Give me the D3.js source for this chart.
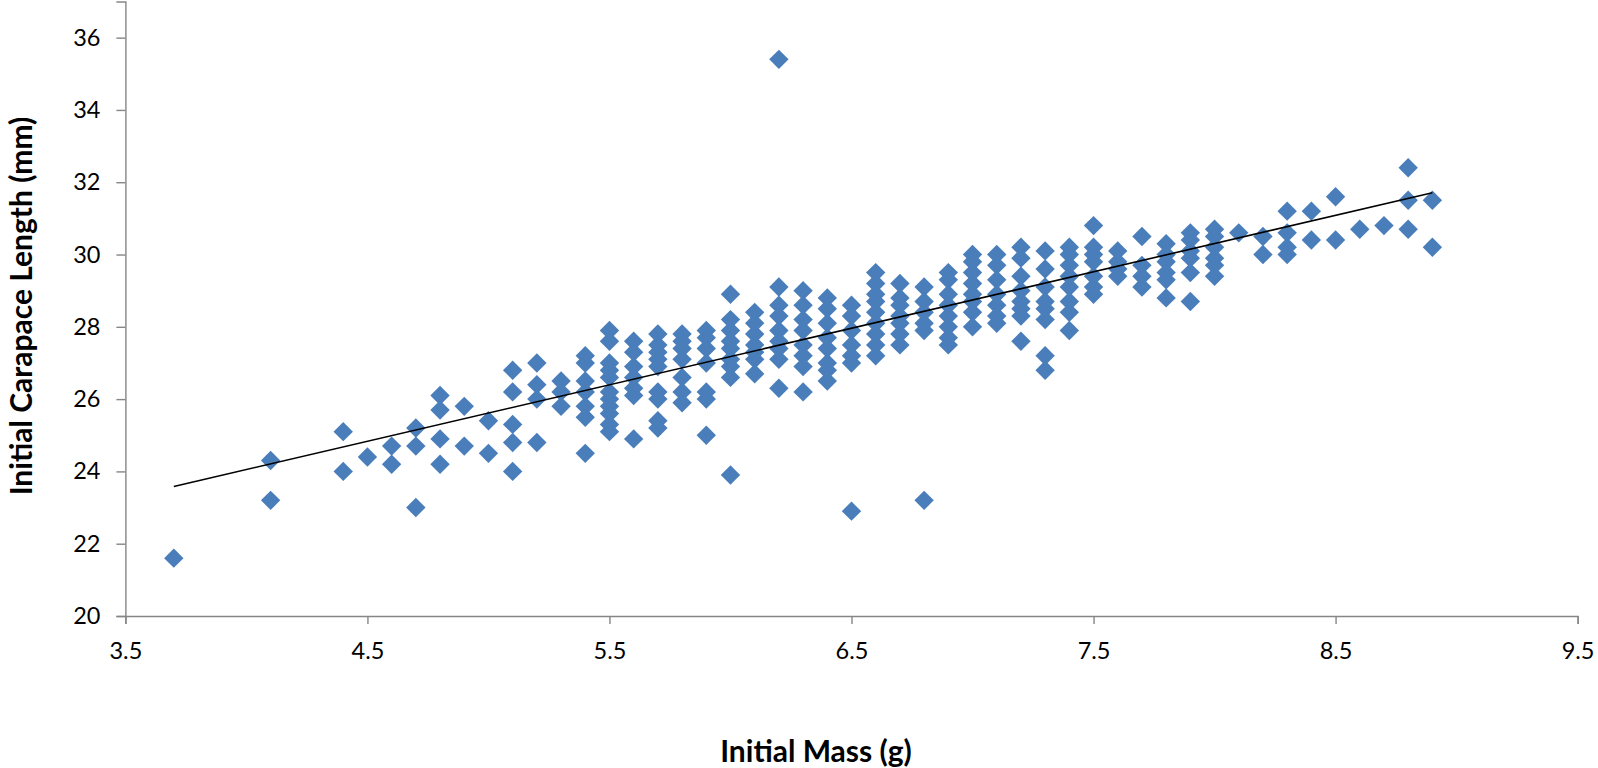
<!DOCTYPE html>
<html>
<head>
<meta charset="utf-8">
<script src="https://cdn.jsdelivr.net/npm/d3@7"></script>
<style>
  html, body { margin: 0; padding: 0; background: #fff; }
  svg { display: block; }
</style>
</head>
<body>
<svg id="chart" width="1598" height="768"></svg>
<script>
// ---- Data ----
const massLevels = [3.7, 4.1, 4.4, 4.5, 4.6, 4.7, 4.8, 4.9, 5.0, 5.1, 5.2, 5.3, 5.4, 5.5, 5.6, 5.7, 5.8, 5.9,
  6.0, 6.1, 6.2, 6.3, 6.4, 6.5, 6.6, 6.7, 6.8, 6.9, 7.0, 7.1, 7.2, 7.3, 7.4, 7.5, 7.6, 7.7, 7.8, 7.9,
  8.0, 8.1, 8.2, 8.3, 8.4, 8.5, 8.6, 8.7, 8.8, 8.9];
const carapaceByMass = [
  [21.6],
  [24.3, 23.2],
  [25.1, 24.0],
  [24.4],
  [24.7, 24.2],
  [25.2, 24.7, 23.0],
  [26.1, 25.7, 24.9, 24.2],
  [25.8, 24.7],
  [25.4, 24.5],
  [26.8, 26.2, 25.3, 24.8, 24.0],
  [27.0, 26.4, 26.0, 24.8],
  [26.5, 26.2, 25.8],
  [27.2, 27.0, 26.5, 26.2, 25.8, 25.5, 24.5],
  [27.9, 27.6, 27.0, 26.8, 26.6, 26.2, 26.0, 25.8, 25.6, 25.3, 25.1],
  [27.6, 27.3, 26.9, 26.6, 26.3, 26.1, 24.9],
  [27.8, 27.5, 27.3, 27.1, 26.9, 26.2, 26.0, 25.4, 25.2],
  [27.8, 27.6, 27.4, 27.1, 26.6, 26.2, 25.9],
  [27.9, 27.7, 27.4, 27.0, 26.2, 26.0, 25.0],
  [28.9, 28.2, 27.9, 27.6, 27.4, 27.1, 26.9, 26.6, 23.9],
  [28.4, 28.1, 27.8, 27.5, 27.3, 27.1, 26.7],
  [35.4, 29.1, 28.6, 28.3, 27.9, 27.6, 27.4, 27.1, 26.3],
  [29.0, 28.6, 28.2, 27.9, 27.5, 27.2, 26.9, 26.2],
  [28.8, 28.5, 28.1, 27.7, 27.4, 27.0, 26.8, 26.5],
  [28.6, 28.3, 27.9, 27.5, 27.2, 27.0, 22.9],
  [29.5, 29.2, 28.9, 28.7, 28.4, 28.1, 27.8, 27.5, 27.2],
  [29.2, 28.8, 28.6, 28.3, 28.1, 27.8, 27.5],
  [29.1, 28.7, 28.4, 28.1, 27.9, 23.2],
  [29.5, 29.3, 28.9, 28.6, 28.3, 28.0, 27.7, 27.5],
  [30.0, 29.8, 29.5, 29.2, 28.9, 28.7, 28.4, 28.0],
  [30.0, 29.7, 29.3, 28.9, 28.6, 28.3, 28.1],
  [30.2, 29.9, 29.4, 29.0, 28.7, 28.5, 28.3, 27.6],
  [30.1, 29.6, 29.1, 28.7, 28.5, 28.2, 27.2, 26.8],
  [30.2, 30.0, 29.7, 29.4, 29.1, 28.7, 28.4, 27.9],
  [30.8, 30.2, 30.0, 29.8, 29.4, 29.1, 28.9],
  [30.1, 29.8, 29.6, 29.4],
  [30.5, 29.7, 29.4, 29.1],
  [30.3, 30.0, 29.8, 29.5, 29.3, 28.8],
  [30.6, 30.4, 30.1, 29.9, 29.5, 28.7],
  [30.7, 30.5, 30.2, 29.9, 29.7, 29.4],
  [30.6],
  [30.5, 30.0],
  [31.2, 30.6, 30.2, 30.0],
  [31.2, 30.4],
  [31.6, 30.4],
  [30.7],
  [30.8],
  [32.4, 31.5, 30.7],
  [31.5, 30.2]
];
const xTicks = [3.5, 4.5, 5.5, 6.5, 7.5, 8.5, 9.5];
const yTicks = [20, 22, 24, 26, 28, 30, 32, 34, 36];
const trendRange = [3.7, 8.9];
const trendCoef = [17.80, 1.563]; // intercept, slope (linear trendline)
const xTitle = "Initial Mass (g)";
const yTitle = "Initial Carapace Length (mm)";

// ---- Build points ----
const points = [];
massLevels.forEach((m, i) => carapaceByMass[i].forEach(c => points.push({ x: m, y: c })));

// ---- Layout ----
const svg = d3.select("#chart");
const plotLeft = 125.4, plotRight = 1577.6, plotTop = 1.5, plotBottom = 616;
const x = d3.scaleLinear().domain([3.5, 9.5]).range([plotLeft, plotRight]);
const y = d3.scaleLinear().domain([20, 37]).range([plotBottom, plotTop]);
const font = "Lato, 'Open Sans', sans-serif";
const axisColor = "#868686";

// axes
const xAxis = svg.append("g").attr("transform", `translate(0,${plotBottom})`)
  .call(d3.axisBottom(x).tickValues(xTicks).tickFormat(d3.format(".1f")).tickSize(8).tickPadding(18));
const yAxis = svg.append("g").attr("transform", `translate(${plotLeft},0)`)
  .call(d3.axisLeft(y).tickValues(yTicks).tickFormat(d3.format("d")).tickSize(9).tickPadding(16));
[xAxis, yAxis].forEach(g => {
  g.select(".domain").attr("stroke", axisColor).attr("stroke-width", 1.4);
  g.selectAll(".tick line").attr("stroke", axisColor).attr("stroke-width", 1.4);
  g.selectAll(".tick text").attr("fill", "#000").attr("font-family", font).attr("font-size", 23.5);
});

// markers (diamonds)
const diamond = d3.symbol().type(d3.symbolSquare).size(188);
svg.append("g").selectAll("path").data(points).join("path")
  .attr("d", diamond)
  .attr("transform", d => `translate(${x(d.x)},${y(d.y)}) rotate(45)`)
  .attr("fill", "#4a7ebb");

// trendline
svg.append("line")
  .attr("x1", x(trendRange[0])).attr("y1", y(trendCoef[0] + trendCoef[1] * trendRange[0]))
  .attr("x2", x(trendRange[1])).attr("y2", y(trendCoef[0] + trendCoef[1] * trendRange[1]))
  .attr("stroke", "#000").attr("stroke-width", 1.6);

// titles
svg.append("text").attr("x", 816).attr("y", 762).attr("text-anchor", "middle")
  .attr("font-family", font).attr("font-weight", "bold").attr("font-size", 30)
  .text(xTitle);
svg.append("text").attr("transform", "translate(32,306) rotate(-90)").attr("text-anchor", "middle")
  .attr("font-family", font).attr("font-weight", "bold").attr("font-size", 30)
  .text(yTitle);
</script>
</body>
</html>
